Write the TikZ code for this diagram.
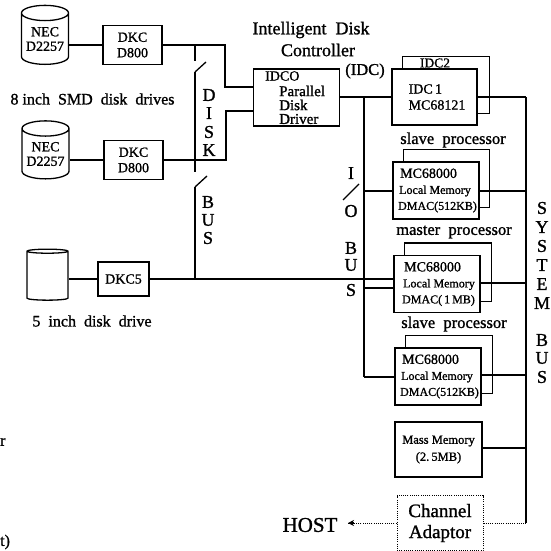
\documentclass[tikz,border=0pt]{standalone}
\usepackage{fontspec}
\setmainfont{Liberation Serif}[FakeBold=1.2]
\usetikzlibrary{shapes.geometric,arrows.meta}
\tikzset{
  wire/.style={line width=1.3pt},
  busline/.style={line width=2pt},
  dotwire/.style={line width=1pt, dash pattern=on 1pt off 1.2pt},
  unitbox/.style={draw, line width=1.3pt, rectangle, align=center, inner sep=0pt, font=\fontsize{14}{15.5}\selectfont},
  drum/.style={draw, line width=1.3pt, cylinder, shape border rotate=90, aspect=0.4, inner sep=0pt, align=center, font=\fontsize{14}{14.5}\selectfont},
  lbl/.style={inner sep=0pt, align=center, font=\fontsize{16}{18}\selectfont},
  title/.style={lbl, font=\fontsize{18}{20}\selectfont},
  bigl/.style={inner sep=0pt, font=\fontsize{18}{20}\selectfont},
  proc/.style={unitbox, minimum width=86pt, minimum height=57pt, align=left, font=\fontsize{14}{16}\selectfont},
  proct/.style={lbl, font=\fontsize{16.5}{18}\selectfont},
  drvt/.style={lbl, anchor=west, font=\fontsize{15}{15}\selectfont}
}
\newcommand{\memlines}[1]{\hspace*{5pt}MC68000\\\hspace*{4pt}{\fontsize{12}{16}\selectfont Local Memory}\\\hspace*{3pt}{\fontsize{12}{16}\selectfont #1}}
\begin{document}
\begin{tikzpicture}[x=1pt,y=-1pt]
  \useasboundingbox (0,0) rectangle (550,551);
  % Disk drives
  \node[drum, minimum width=47pt, minimum height=59pt] (necA) at (45,39) {NEC\\D2257};
  \node[drum, minimum width=47pt, minimum height=58pt] (necB) at (45.5,154) {NEC\\D2257};
  \node[drum, minimum width=41pt, minimum height=51pt] (fiveIn) at (47.5,276) {\phantom{X}};
  % Disk controllers
  \node[unitbox, minimum width=59pt, minimum height=39pt] (dkcA) at (132.5,45) {DKC\\D800};
  \node[unitbox, minimum width=59pt, minimum height=39pt] (dkcB) at (133.5,160) {DKC\\D800};
  \node[unitbox, minimum width=51pt, minimum height=34pt] (dkcC) at (123.5,279) {DKC5};
  \draw[wire] (dkcA.west) -- (dkcA.west -| necA.east);
  \draw[wire] (dkcB.west) -- (dkcB.west -| necB.east);
  \draw[wire] (dkcC.west) -- (dkcC.west -| fiveIn.east);
  % Disk bus with its two switches
  \coordinate (diskTop) at (195,46);
  \coordinate (swAlow) at (195,61);
  \coordinate (swBup) at (195,72);
  \coordinate (swBlow) at (195,172);
  \coordinate (swCup) at (195,187);
  \coordinate (diskEnd) at (195,279);
  \draw[busline] (diskTop) -- (swAlow);
  \draw[busline] (swBup) -- (swBlow);
  \draw[busline] (swCup) -- (diskEnd);
  \draw[wire] (swBup) -- ++(11,-10);
  \draw[wire] (swCup) -- ++(12,-11);
  % Parallel disk driver
  \node[unitbox, minimum width=86pt, minimum height=57pt] (idcO) at (296.5,97.5) {};
  \node[drvt, font=\fontsize{14}{15}\selectfont] (idcOa) at (265,76) {IDCO};
  \node[drvt] (idcOb) at (279,91) {Parallel};
  \node[drvt] (idcOc) at (279,105) {Disk};
  \node[drvt] (idcOd) at (279,119) {Driver};
  \draw[wire] (dkcA.east) -| (225,87) -- (idcO.west |- 0,87);
  \draw[wire] (dkcB.east) -| (226,111) -- (idcO.west |- 0,111);
  % IDC boards
  \node[proc, minimum width=85pt, minimum height=56pt, inner sep=0pt] (idcA) at (434.5,97) {\hspace*{5pt}IDC\,1\\\hspace*{5pt}MC68121};
  \draw[wire] ([xshift=11pt]idcA.north west) -- ++(0,-12) -- ++(87,0) |- ([yshift=12pt]idcA.south east);
  \node[lbl, fill=white, inner xsep=1pt, inner ysep=0pt, font=\fontsize{13.5}{14}\selectfont] (idcB) at (435,63) {IDC2};
  % Processor boards
  \node[proct] (slaveAt) at (453,140) {slave\ \ processor};
  \node[proc] (slaveA) at (436,190.5) {\memlines{DMAC(512KB)}};
  \draw[wire] ([xshift=11pt]slaveA.north west) -- ++(0,-12) -- ++(86,0) |- ([yshift=12pt]slaveA.south east);
  \node[proct] (masterAt) at (454,232) {master\ \ processor};
  \node[proc] (masterA) at (437,284) {\memlines{DMAC(\,1\,MB)}};
  \draw[wire] ([xshift=11pt]masterA.north west) -- ++(0,-12) -- ++(87,0) |- ([yshift=12pt]masterA.south east);
  \node[proct] (slaveBt) at (454,324) {slave\ \ processor};
  \node[proc] (slaveB) at (438,376.5) {\memlines{DMAC(512KB)}};
  \draw[wire] ([xshift=11pt]slaveB.north west) -- ++(0,-12) -- ++(87,0) |- ([yshift=12pt]slaveB.south east);
  % Memory and channel adaptor
  \node[unitbox, minimum width=87pt, minimum height=55pt, font=\fontsize{12.5}{17}\selectfont] (massM) at (438.5,449.5) {Mass Memory\\(2.\,5MB)};
  \node[draw, dotwire, rectangle, minimum width=86pt, minimum height=55pt, inner sep=0pt, align=center, font=\fontsize{19}{21}\selectfont] (chanA) at (440,523) {Channel\\Adaptor};
  \node[bigl, font=\fontsize{21}{23}\selectfont] (hostT) at (310,525) {HOST};
  % I/O bus
  \coordinate (ioTop) at (364,97);
  \coordinate (ioEnd) at (364,377);
  \draw[wire] (idcO.east |- ioTop) -- (idcA.west |- ioTop);
  \draw[busline] (ioTop) -- (ioEnd);
  \draw[wire] (ioEnd) -- (slaveB.west |- ioEnd);
  \draw[wire] (364,191) -- (slaveA.west |- 0,191);
  \draw[wire] (364,288) -- (masterA.west |- 0,288);
  \draw[wire] (dkcC.east) -- (masterA.west |- dkcC.east);
  % System bus
  \coordinate (sysTop) at (526,97);
  \coordinate (sysEnd) at (526,523);
  \draw[wire] (idcA.east |- sysTop) -- (sysTop);
  \draw[busline] (sysTop) -- (sysEnd);
  \draw[wire] (slaveA.east |- 0,191) -- (526,191);
  \draw[wire] (masterA.east |- 0,283) -- (526,283);
  \draw[wire] (slaveB.east |- 0,375) -- (526,375);
  \draw[wire] (massM.east |- 0,448) -- (526,448);
  \draw[dotwire] (chanA.east |- sysEnd) -- (sysEnd);
  \coordinate (hostTip) at (348,523);
  \draw[dotwire] (chanA.west |- sysEnd) -- (hostTip);
  \draw[wire, -{Stealth[length=6pt,width=6pt]}] (354,523) -- (hostTip);
  % Labels
  \node[title] (titleA) at (311,30) {Intelligent\ \ Disk};
  \node[title] (titleB) at (318,50) {Controller};
  \node[title, font=\fontsize{16.5}{18}\selectfont] (titleC) at (365,71) {(IDC)};
  \node[lbl] (smdT) at (92.5,99) {8 inch\ \ SMD\ \ disk\ \ drives};
  \node[lbl] (fiveT) at (92,321) {5\ \ inch\ \ disk\ \ drive};
  \foreach \ch/\yy [count=\i] in {D/95,I/113,S/132,K/150}
    \node[bigl] (dk\i) at (209,\yy) {\ch};
  \foreach \ch/\yy [count=\i] in {B/202,U/220,S/238}
    \node[bigl] (db\i) at (208,\yy) {\ch};
  \node[bigl] (ioI) at (351,173) {I};
  \node[bigl] (ioO) at (351,211) {O};
  \draw[wire] (343,200) -- (359,184);
  \foreach \ch/\yy [count=\i] in {B/248,U/265,S/290}
    \node[bigl] (ib\i) at (351,\yy) {\ch};
  \foreach \ch/\yy [count=\i] in {S/208,Y/227,S/246,T/265,E/284,M/303,B/340,U/358,S/377}
    \node[bigl] (sb\i) at (542,\yy) {\ch};
  \node[lbl, anchor=west] (cutA) at (0,442) {r};
  \node[lbl, anchor=west] (cutB) at (0,542) {t)};
\end{tikzpicture}
\end{document}
